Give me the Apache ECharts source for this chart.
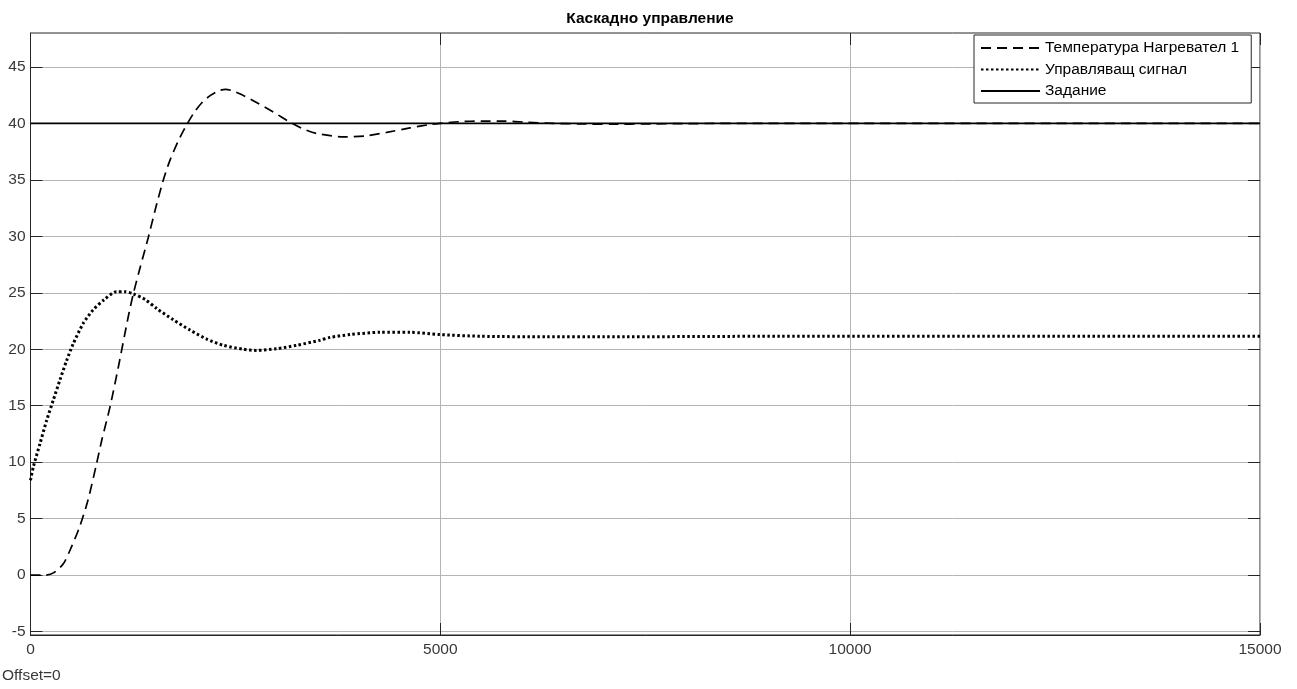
<!DOCTYPE html>
<html>
<head>
<meta charset="utf-8">
<script src="https://cdn.jsdelivr.net/npm/echarts@6/dist/echarts.min.js"></script>
<style>
html,body{margin:0;padding:0;background:#fff;}
#c{width:1297px;height:689px;}
</style>
</head>
<body>
<div id="c"></div>
<script>
const titleText = 'Каскадно управление';
const seriesNames = ['Температура Нагревател 1', 'Управляващ сигнал', 'Задание'];
const xTicks = [0, 5000, 10000, 15000];
const yTicks = [-5, 0, 5, 10, 15, 20, 25, 30, 35, 40, 45];

const tempT = [0, 180, 280, 400, 500, 600, 700, 807, 868, 970, 1071, 1193, 1254, 1336, 1437, 1520, 1617, 1700, 1800, 1900, 2000, 2100, 2200, 2300, 2380, 2460, 2560, 2718, 2962, 3166, 3328, 3492, 3816, 4102, 4346, 4630, 4874, 5000, 5240, 5500, 5768, 6060, 6375, 6705, 7108, 7517, 8000, 9000, 15000];
const tempV = [0, 0, 0.2, 1.0, 2.5, 4.3, 6.6, 9.9, 11.9, 14.9, 18.4, 22.9, 24.9, 27.2, 29.9, 32.3, 34.9, 36.7, 38.4, 39.8, 41.0, 41.9, 42.5, 42.9, 43.0, 42.9, 42.6, 42.0, 41.0, 40.1, 39.5, 39.1, 38.8, 38.9, 39.2, 39.6, 39.9, 40.0, 40.15, 40.2, 40.2, 40.1, 40.0, 39.95, 39.93, 39.95, 39.98, 40.0, 40.0];

const ctrlT = [0, 35, 116, 197, 278, 360, 441, 522, 644, 766, 900, 1051, 1150, 1254, 1400, 1540, 1743, 1946, 2150, 2352, 2596, 2760, 3004, 3248, 3532, 3654, 3900, 4264, 4630, 4996, 5484, 6298, 7000, 9144, 15000];
const ctrlV = [8.4, 9.6, 11.65, 13.7, 15.5, 17.3, 19.0, 20.5, 22.3, 23.5, 24.4, 25.1, 25.1, 24.9, 24.4, 23.6, 22.6, 21.7, 20.9, 20.35, 20.0, 19.9, 20.05, 20.35, 20.8, 21.05, 21.3, 21.5, 21.5, 21.3, 21.15, 21.1, 21.1, 21.15, 21.15];

const spT = [0, 15000];
const spV = [40, 40];

const zip = (a, b) => a.map((t, i) => [t, b[i]]);

const font = 'Liberation Sans, Arial, Helvetica, sans-serif';
const fs = 15.5;
const labelColor = '#383838';
const gridColor = '#b4b4b4';
const axisColor = '#262626';

const chart = echarts.init(document.getElementById('c'), null, {renderer: 'canvas'});
chart.setOption({
  backgroundColor: '#ffffff',
  animation: false,
  title: {
    text: titleText,
    left: 645, top: 6, textAlign: 'center',
    textStyle: {fontFamily: font, fontSize: fs, fontWeight: 'bold', color: '#000'}
  },
  graphic: [{
    type: 'text', left: 2, top: 668,
    style: {text: 'Offset=0', font: fs + 'px ' + font, fill: labelColor}
  }],
  legend: {
    left: 974, top: 35,
    orient: 'vertical',
    backgroundColor: '#fff',
    borderColor: '#262626', borderWidth: 1, borderRadius: 0,
    padding: [5, 12, 4, 6],
    itemGap: 5.5,
    itemWidth: 59, itemHeight: 16,
    itemStyle: {color: 'rgba(0,0,0,0)', borderWidth: 0, opacity: 0},
    textStyle: {fontFamily: font, fontSize: fs, lineHeight: 16, color: '#000'},
    data: seriesNames.map(n => ({name: n}))
  },
  grid: {left: 30.5, right: 37, top: 33, bottom: 54, show: true, borderColor: axisColor, borderWidth: 1, containLabel: false},
  xAxis: [{
    type: 'value', min: 0, max: 15000, interval: 5000,
    axisLine: {show: true, onZero: false, lineStyle: {color: axisColor}},
    axisTick: {show: true, inside: true, length: 12, lineStyle: {color: axisColor}},
    axisLabel: {color: labelColor, fontFamily: font, fontSize: fs, margin: 7,
      formatter: v => xTicks.includes(v) ? String(v) : ''},
    splitLine: {show: true, lineStyle: {color: gridColor, width: 1}}
  }, {
    type: 'value', min: 0, max: 15000, interval: 5000, position: 'top',
    axisLine: {show: false, onZero: false}, axisTick: {show: true, inside: true, length: 12, lineStyle: {color: axisColor}},
    axisLabel: {show: false}, splitLine: {show: false}
  }],
  yAxis: [{
    type: 'value', min: -5.3, max: 48,
    axisLine: {show: true, onZero: false, lineStyle: {color: axisColor}},
    axisTick: {show: true, inside: true, length: 12, lineStyle: {color: axisColor},
      customValues: yTicks},
    axisLabel: {color: labelColor, fontFamily: font, fontSize: fs, margin: 5,
      customValues: yTicks},
    splitLine: {show: true, lineStyle: {color: gridColor, width: 1}},
    splitNumber: 11
  }, {
    type: 'value', min: -5.3, max: 48, position: 'right',
    axisLine: {show: false, onZero: false},
    axisTick: {show: true, inside: true, length: 12, lineStyle: {color: axisColor}, customValues: yTicks},
    axisLabel: {show: false, customValues: yTicks}, splitLine: {show: false}
  }],
  series: [{
    name: seriesNames[0], type: 'line', data: zip(tempT, tempV),
    showSymbol: false, symbol: 'none', smooth: 0.25, z: 3,
    lineStyle: {color: '#000', width: 1.7, type: [10, 6]},
    itemStyle: {color: '#000'}
  }, {
    name: seriesNames[1], type: 'line', data: zip(ctrlT, ctrlV),
    showSymbol: false, symbol: 'none', smooth: 0.25, z: 3,
    lineStyle: {color: '#000', width: 3, type: [2.5, 2.5]},
    itemStyle: {color: '#000'}
  }, {
    name: seriesNames[2], type: 'line', data: zip(spT, spV),
    showSymbol: false, symbol: 'none', z: 2,
    lineStyle: {color: '#000', width: 1.8, type: 'solid'},
    itemStyle: {color: '#000'}
  }]
});
</script>
</body>
</html>
